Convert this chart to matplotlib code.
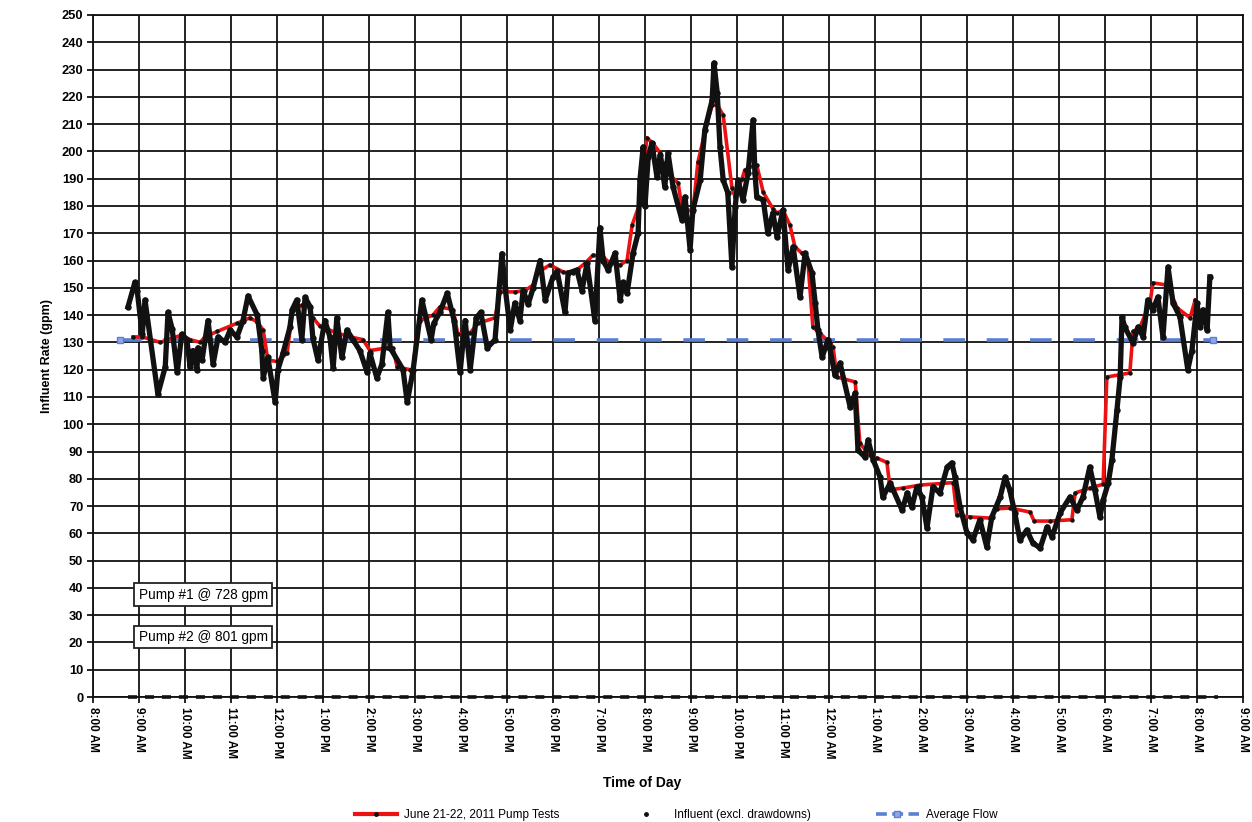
import matplotlib
matplotlib.use("Agg")
import matplotlib.pyplot as plt
from matplotlib.lines import Line2D

plt.rcParams["font.family"] = ["Liberation Sans", "DejaVu Sans"]

# time axis in clock hours, values > 24 are the following morning
hour_ticks = list(range(8, 34))
hour_labels = ["8:00 AM", "9:00 AM", "10:00 AM", "11:00 AM", "12:00 PM",
               "1:00 PM", "2:00 PM", "3:00 PM", "4:00 PM", "5:00 PM",
               "6:00 PM", "7:00 PM", "8:00 PM", "9:00 PM", "10:00 PM",
               "11:00 PM", "12:00 AM", "1:00 AM", "2:00 AM", "3:00 AM",
               "4:00 AM", "5:00 AM", "6:00 AM", "7:00 AM", "8:00 AM",
               "9:00 AM"]

# June 21-22 pump test flow (gpm)
pump_t = [8.87, 9.07, 9.46, 9.93, 10.11, 10.33, 10.43, 10.70, 11.13, 11.41,
          11.57, 11.70, 11.80, 12.00, 12.22, 12.33, 12.54, 12.67, 12.78, 12.93,
          13.30, 13.59, 13.87, 14.02, 14.39, 14.52, 14.61, 14.89, 14.96, 15.02,
          15.11, 15.39, 15.54, 15.83, 15.93, 16.20, 16.37, 16.74, 16.85, 17.17,
          17.39, 17.57, 17.65, 17.93, 18.22, 18.43, 18.70, 18.87, 19.09, 19.24,
          19.46, 19.61, 19.72, 19.89, 20.04, 20.17, 20.33, 20.39, 20.54, 20.72,
          20.80, 21.04, 21.15, 21.35, 21.46, 21.57, 21.70, 21.89, 21.96, 22.11,
          22.17, 22.35, 22.43, 22.57, 22.78, 22.87, 23.00, 23.15, 23.26, 23.41,
          23.54, 23.65, 23.80, 24.02, 24.09, 24.17, 24.57, 24.67, 24.89, 25.04,
          25.26, 25.33, 25.61, 25.98, 26.70, 26.78, 27.07, 27.50, 27.65, 27.93,
          28.37, 28.46, 28.80, 29.28, 29.35, 29.67, 29.96, 30.04, 30.54, 30.61,
          30.76, 30.98, 31.04, 31.35, 31.57, 31.85, 31.96]
pump_q = [132, 132, 130, 132.7, 131, 130, 132, 134, 137, 139,
          137.5, 134.5, 123.5, 123, 126, 141, 143.7, 143.7, 139, 136,
          133.4, 132, 131, 127, 128, 128, 121, 120, 120, 131,
          138, 140, 143, 142, 133, 133.5, 137, 139, 148.5, 148.5,
          149, 151, 155.4, 158.4, 155.8, 155.4, 159, 162, 161.3, 159,
          158.4, 160, 173, 181, 205, 203, 199.4, 195.7, 191.3, 188.4,
          179.6, 177.8, 196, 210.4, 217, 217, 213.3, 186.6, 183.3, 190,
          193.2, 194.6, 195, 185, 179, 177.4, 178.5, 173, 165, 162.7,
          160, 135.6, 133.4, 129.8, 128.3, 117.3, 115.5, 93, 88.7, 87.6,
          86, 76, 76.6, 77.7, 78.6, 66.7, 66, 65.6, 69, 69.3,
          67.8, 64.5, 64.5, 65, 74.8, 76.6, 78, 117.3, 118.8, 134,
          135.6, 144.4, 151.8, 151, 142.6, 139, 145.5]

# influent readings (excl. drawdowns), gpm
infl_t = [8.76, 8.91, 8.96, 9.07, 9.13, 9.41, 9.57, 9.63, 9.72, 9.83,
          9.93, 10.04, 10.11, 10.17, 10.26, 10.28, 10.37, 10.50, 10.61, 10.72,
          10.87, 10.98, 11.13, 11.26, 11.37, 11.57, 11.67, 11.70, 11.80, 11.96,
          12.02, 12.13, 12.28, 12.33, 12.43, 12.54, 12.61, 12.72, 12.78, 12.89,
          13.04, 13.15, 13.22, 13.30, 13.41, 13.52, 13.65, 13.80, 13.96, 14.02,
          14.17, 14.28, 14.41, 14.46, 14.74, 14.83, 14.96, 15.15, 15.35, 15.41,
          15.54, 15.70, 15.85, 15.98, 16.09, 16.20, 16.33, 16.43, 16.57, 16.74,
          16.89, 16.96, 17.07, 17.17, 17.28, 17.35, 17.46, 17.57, 17.72, 17.83,
          18.00, 18.09, 18.26, 18.33, 18.52, 18.63, 18.74, 18.91, 19.02, 19.09,
          19.20, 19.35, 19.46, 19.52, 19.61, 19.74, 19.85, 19.89, 19.96, 20.00,
          20.07, 20.15, 20.26, 20.33, 20.43, 20.50, 20.61, 20.80, 20.87, 20.98,
          21.04, 21.20, 21.30, 21.46, 21.50, 21.57, 21.63, 21.70, 21.80, 21.89,
          21.96, 22.02, 22.13, 22.24, 22.35, 22.39, 22.43, 22.57, 22.67, 22.78,
          22.87, 23.00, 23.11, 23.22, 23.37, 23.48, 23.63, 23.70, 23.76, 23.85,
          23.98, 24.13, 24.24, 24.46, 24.57, 24.63, 24.78, 24.85, 24.96, 25.11,
          25.17, 25.33, 25.59, 25.70, 25.80, 25.91, 26.02, 26.13, 26.26, 26.41,
          26.57, 26.67, 26.74, 26.85, 27.00, 27.13, 27.28, 27.43, 27.54, 27.72,
          27.83, 27.93, 28.04, 28.15, 28.30, 28.43, 28.59, 28.74, 28.85, 29.02,
          29.24, 29.39, 29.52, 29.67, 29.78, 29.89, 29.96, 30.07, 30.15, 30.26,
          30.33, 30.37, 30.43, 30.61, 30.72, 30.83, 30.93, 31.04, 31.15, 31.26,
          31.37, 31.48, 31.63, 31.80, 31.89, 32.00, 32.07, 32.13, 32.22, 32.28]
infl_q = [143, 152, 149, 133, 145.5, 111, 121, 141, 135, 119,
          133, 131, 121, 127, 120, 128, 123.5, 138, 122, 132,
          130, 134.5, 132, 138, 147, 140, 127, 117, 124.5, 108,
          120, 126, 135.5, 142, 145.5, 131, 146.5, 143, 131.5, 123.5,
          138, 132, 120.5, 139, 124.5, 134.5, 131, 127, 119, 126,
          117, 122, 141, 128, 120, 108, 120, 145.5, 131, 137,
          141, 148, 138, 119, 138, 120, 139, 141, 128, 131,
          162.5, 150, 134.5, 144.4, 138, 149, 144, 150, 160, 145.5,
          154, 156, 141, 155.4, 156.5, 149, 159, 138, 172, 160,
          156.5, 162.7, 145.5, 152, 148, 162.7, 170, 189.5, 201.6, 180,
          198, 203, 190.6, 198.7, 187, 199.4, 187, 175, 183.3, 164,
          178.5, 189.5, 207.8, 218.8, 232.4, 221.4, 201.6, 189.5, 184.8, 157.6,
          179.6, 189.5, 182.2, 192, 211.5, 192, 183.3, 182.2, 170, 177.4,
          168.6, 178.5, 156.5, 165, 146.6, 162.7, 155.4, 144.4, 134.5, 124.6,
          131, 118, 122.4, 106.3, 111.4, 90.5, 88, 94.2, 87, 80.6,
          73.3, 78.4, 68.5, 74.8, 69.6, 77, 73.3, 62, 77, 74.8,
          84.3, 85.8, 80.6, 69.6, 60.1, 57.6, 65, 55, 66, 73.3,
          80.6, 75.9, 67.4, 57.6, 61.2, 56.5, 54.6, 62.3, 58.7, 67.4,
          73.3, 68.5, 73.3, 84.3, 75.9, 66, 72.2, 78.4, 86.9, 105.2,
          117.3, 139.3, 135.6, 129.8, 135.6, 132, 145.5, 141.9, 146.6, 132,
          157.6, 144.4, 139.3, 120, 127, 144.4, 135.6, 141.9, 134.5, 154]

# readings logged at zero flow, drawn along the base of the chart
zero_t = [8.76, 32.45]
zero_q = [0, 0]

avg_t = [8.59, 32.35]
avg_q = [131, 131]

pump_notes = ["Pump #1 @ 728 gpm", "Pump #2 @ 801 gpm"]
pump_note_y = [37.5, 22]

fig = plt.figure(figsize=(12.52, 8.22), dpi=100)
ax = fig.add_axes([0.0743, 0.152, 0.9185, 0.8298])

BLUE = "#5b7fd2"
ax.plot(avg_t, avg_q, color=BLUE, lw=2.6, dashes=(6, 6), marker="s", ms=5,
        mfc="#8ea8e6", mec=BLUE, zorder=3)
ax.plot(pump_t, pump_q, color="#ee1111", lw=2.6, marker="o", ms=2.2,
        mfc="#111111", mec="#111111", zorder=4)
ax.plot(infl_t, infl_q, color="#111111", lw=3.8, marker="o", ms=3.6,
        solid_joinstyle="round", zorder=5)
ax.plot(zero_t, zero_q, color="#111111", lw=2.6, dashes=(2.5, 2.2), zorder=5,
        clip_on=False)

for txt, yv in zip(pump_notes, pump_note_y):
    ax.text(8.99, yv, txt, fontsize=9.8, va="center", ha="left", zorder=6,
            bbox=dict(boxstyle="square,pad=0.32", fc="white", ec="#222222", lw=1.3))

ax.set_xlim(8, 33)
ax.set_ylim(0, 250)
ax.set_xticks(hour_ticks)
ax.set_xticklabels(hour_labels, rotation=270, fontsize=8.5, fontweight="bold")
ax.set_yticks(range(0, 251, 10))
ax.tick_params(axis="y", labelsize=9.3, length=4, width=1.2, pad=3)
ax.tick_params(axis="x", length=4, width=1.2, pad=3)
for lab in ax.get_yticklabels():
    lab.set_fontweight("bold")
ax.grid(True, color="#111111", lw=1.3)
ax.set_axisbelow(True)
for sp in ax.spines.values():
    sp.set_color("#111111")
    sp.set_linewidth(1.3)

ax.set_ylabel("Influent Rate (gpm)", fontsize=9, fontweight="bold", labelpad=6)
fig.text(0.513, 0.047, "Time of Day", fontsize=10, fontweight="bold",
         ha="center", va="center")

handles = [
    Line2D([], [], color="#ee1111", lw=3, marker="o", ms=2.5, mfc="#111111",
           mec="#111111"),
    Line2D([], [], color="#111111", lw=0, marker="o", ms=2.5),
    Line2D([], [], color=BLUE, lw=2.6, dashes=(3, 1.5), marker="s", ms=5,
           mfc="#8ea8e6", mec=BLUE),
]
fig.legend(handles, ["June 21-22, 2011 Pump Tests", "Influent (excl. drawdowns)",
                     "Average Flow"],
           loc="center", bbox_to_anchor=(0.54, 0.008), ncol=3, frameon=False,
           fontsize=8.5, handlelength=3.6, columnspacing=5.5, handletextpad=0.6)

fig.savefig("out.png", dpi=100)
